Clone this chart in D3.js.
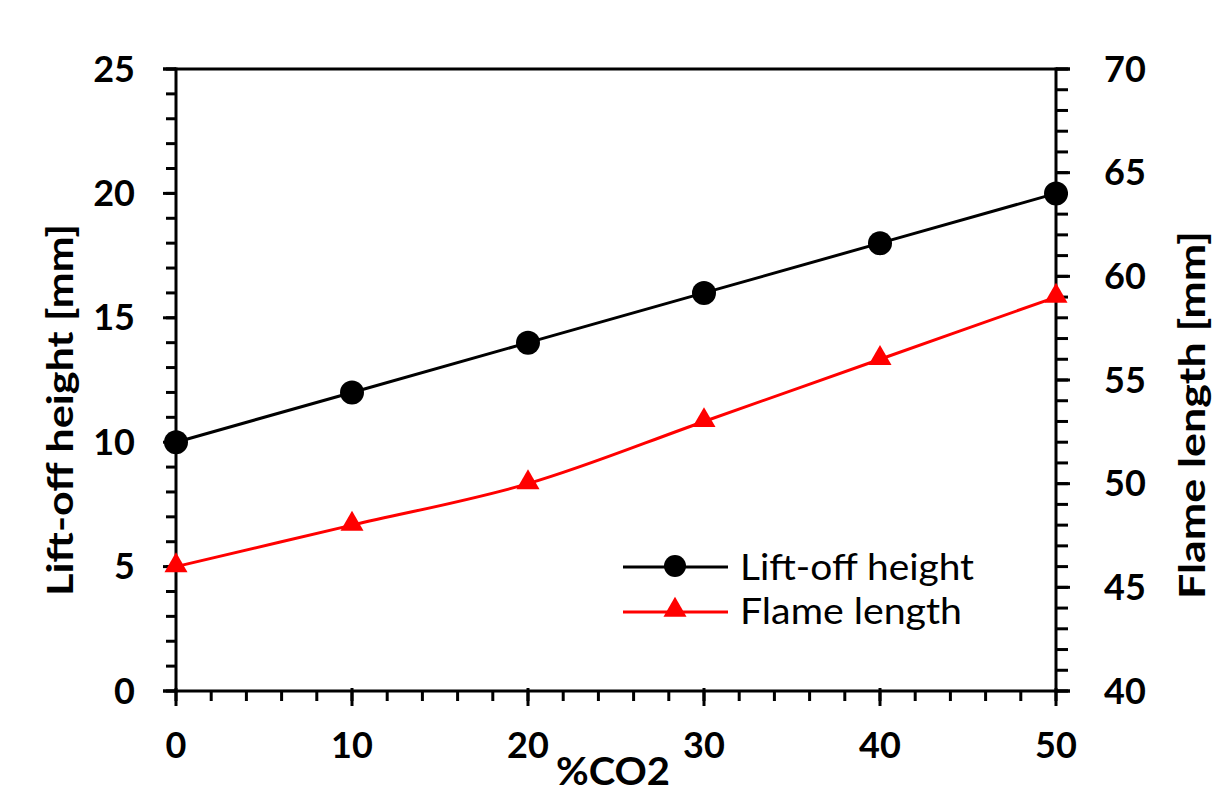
<!DOCTYPE html>
<html><head><meta charset="utf-8">
<script src="https://cdn.jsdelivr.net/npm/d3@7"></script>
<style>
html,body{margin:0;padding:0;background:#fff;}
svg{display:block;}
text{font-family:Lato,"Open Sans",sans-serif;}
</style></head>
<body>
<script>
const co2 = [0, 10, 20, 30, 40, 50];
const liftOff = [10, 12, 14, 16, 18, 20];
const flameLength = [46, 48, 50, 53, 56, 59];
const xTicks = [0, 10, 20, 30, 40, 50];
const yLeftTicks = [0, 5, 10, 15, 20, 25];
const yRightTicks = [40, 45, 50, 55, 60, 65, 70];
const seriesNames = ["Lift-off height", "Flame length"];

const W = 1215, H = 785;
const L = 176, R = 1056, T = 69, B = 691;
const svg = d3.select("body").append("svg").attr("width", W).attr("height", H);

const x = d3.scaleLinear().domain([0, 50]).range([L, R]);
const yL = d3.scaleLinear().domain([0, 25]).range([B, T]);
const yR = d3.scaleLinear().domain([40, 70]).range([B, T]);

const g = svg.append("g");
const stroke = "#000", sw = 3;

// minor ticks
const lMinor = d3.range(0, 26, 1);
g.selectAll(".lm").data(lMinor).enter().append("line")
  .attr("x1", L - 10).attr("x2", L).attr("y1", d => yL(d)).attr("y2", d => yL(d))
  .attr("stroke", stroke).attr("stroke-width", sw);
g.selectAll(".lM").data(yLeftTicks).enter().append("line")
  .attr("x1", L - 13).attr("x2", L).attr("y1", d => yL(d)).attr("y2", d => yL(d))
  .attr("stroke", stroke).attr("stroke-width", sw);
const rMinor = d3.range(40, 71, 1);
g.selectAll(".rm").data(rMinor).enter().append("line")
  .attr("x1", R).attr("x2", R + 12).attr("y1", d => yR(d)).attr("y2", d => yR(d))
  .attr("stroke", stroke).attr("stroke-width", sw);
g.selectAll(".rM").data(yRightTicks).enter().append("line")
  .attr("x1", R).attr("x2", R + 14).attr("y1", d => yR(d)).attr("y2", d => yR(d))
  .attr("stroke", stroke).attr("stroke-width", sw);
const xMinor = d3.range(0, 51, 2);
g.selectAll(".xm").data(xMinor).enter().append("line")
  .attr("x1", d => x(d)).attr("x2", d => x(d)).attr("y1", B).attr("y2", B + 10)
  .attr("stroke", stroke).attr("stroke-width", sw);
g.selectAll(".xM").data(xTicks).enter().append("line")
  .attr("x1", d => x(d)).attr("x2", d => x(d)).attr("y1", B - 3).attr("y2", B + 15)
  .attr("stroke", stroke).attr("stroke-width", sw);

// frame
g.append("line").attr("x1", L).attr("x2", L).attr("y1", T - 1.5).attr("y2", B + 1.5).attr("stroke", stroke).attr("stroke-width", sw);
g.append("line").attr("x1", R).attr("x2", R).attr("y1", T - 1.5).attr("y2", B + 1.5).attr("stroke", stroke).attr("stroke-width", sw);
g.append("line").attr("x1", L - 13).attr("x2", R + 14).attr("y1", T).attr("y2", T).attr("stroke", stroke).attr("stroke-width", sw);
g.append("line").attr("x1", L - 13).attr("x2", R + 14).attr("y1", B).attr("y2", B).attr("stroke", stroke).attr("stroke-width", sw);

// tick labels
const fs = 36;
g.selectAll(".ll").data(yLeftTicks).enter().append("text")
  .attr("x", 135).attr("y", d => yL(d)).attr("dy", "0.35em").attr("text-anchor", "end")
  .attr("font-size", fs).attr("font-weight", "bold").text(d => d);
g.selectAll(".rl").data(yRightTicks).enter().append("text")
  .attr("x", 1104).attr("y", d => yR(d)).attr("dy", "0.35em").attr("text-anchor", "start")
  .attr("font-size", fs).attr("font-weight", "bold").text(d => d);
g.selectAll(".xl").data(xTicks).enter().append("text")
  .attr("x", d => x(d)).attr("y", 745).attr("dy", "0.35em").attr("text-anchor", "middle")
  .attr("font-size", fs).attr("font-weight", "bold").text(d => d);

// axis titles
svg.append("text").attr("transform", "translate(73,410) rotate(-90)")
  .attr("text-anchor", "middle").attr("font-size", 36).attr("font-weight", "bold")
  .attr("textLength", 372).attr("lengthAdjust", "spacingAndGlyphs").text("Lift-off height [mm]");
svg.append("text").attr("transform", "translate(1205,415) rotate(-90)")
  .attr("text-anchor", "middle").attr("font-size", 36).attr("font-weight", "bold")
  .attr("textLength", 368).attr("lengthAdjust", "spacingAndGlyphs").text("Flame length [mm]");
svg.append("text").attr("x", 613).attr("y", 785).attr("text-anchor", "middle")
  .attr("font-size", 38).attr("font-weight", "bold")
  .attr("textLength", 114).attr("lengthAdjust", "spacingAndGlyphs").text("%CO2");

// series
const line1 = d3.line().x((d, i) => x(co2[i])).y(d => yL(d));
svg.append("path").datum(liftOff).attr("d", line1).attr("fill", "none").attr("stroke", "#000").attr("stroke-width", 3);
const line2 = d3.line().x((d, i) => x(co2[i])).y(d => yR(d)).curve(d3.curveCatmullRom.alpha(0.5));
svg.append("path").datum(flameLength).attr("d", line2).attr("fill", "none").attr("stroke", "#ff0000").attr("stroke-width", 3);

svg.selectAll(".c").data(liftOff).enter().append("circle")
  .attr("cx", (d, i) => x(co2[i])).attr("cy", d => yL(d)).attr("r", 12).attr("fill", "#000");
const tri = d3.symbol().type(d3.symbolTriangle).size(230);
svg.selectAll(".t").data(flameLength).enter().append("path")
  .attr("d", tri).attr("transform", (d, i) => `translate(${x(co2[i])},${yR(d) - 1})`).attr("fill", "#ff0000");

// legend
const lg = svg.append("g");
lg.append("line").attr("x1", 623).attr("x2", 728).attr("y1", 567).attr("y2", 567).attr("stroke", "#000").attr("stroke-width", 3);
lg.append("circle").attr("cx", 675).attr("cy", 566).attr("r", 11).attr("fill", "#000");
lg.append("line").attr("x1", 623).attr("x2", 728).attr("y1", 612).attr("y2", 612).attr("stroke", "#ff0000").attr("stroke-width", 3);
lg.append("path").attr("d", tri).attr("transform", "translate(675,610)").attr("fill", "#ff0000");
lg.append("text").attr("x", 740).attr("y", 567).attr("dy", "0.35em").attr("font-size", 36)
  .attr("textLength", 234).attr("lengthAdjust", "spacingAndGlyphs").text(seriesNames[0]);
lg.append("text").attr("x", 740).attr("y", 611).attr("dy", "0.35em").attr("font-size", 36)
  .attr("textLength", 222).attr("lengthAdjust", "spacingAndGlyphs").text(seriesNames[1]);
</script>
</body></html>
